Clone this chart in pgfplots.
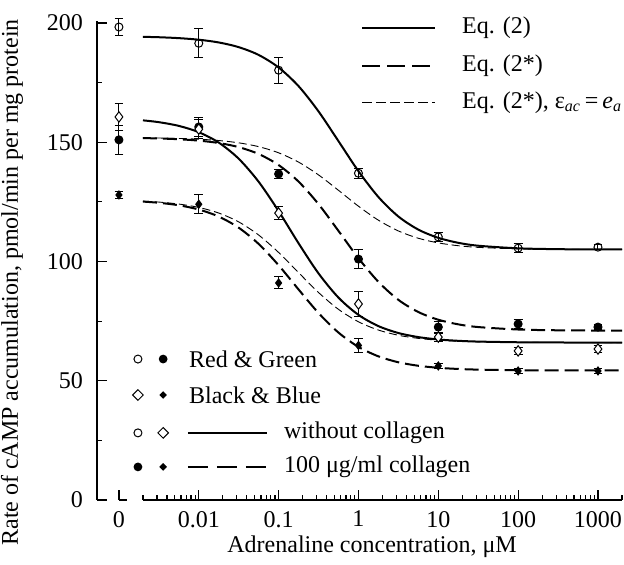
\documentclass[border=0pt]{standalone}
\usepackage{fontspec}
\setmainfont{Liberation Serif}
\usepackage{pgfplots}
\usepackage{pgfplotstable}
\pgfplotsset{compat=1.18}
\usetikzlibrary{shapes.geometric}

% fitted curves (x in uM)
\pgfplotstableread{
x       rgA     rgB     rgC     bbA     bbB     bbC
0.002   194.19  151.73  151.85  159.17  125.11  125.30
0.00316 194.02  151.58  151.77  158.41  124.61  124.91
0.00562 193.64  151.25  151.58  156.85  123.57  124.08
0.01    192.98  150.67  151.27  154.20  121.78  122.67
0.0178  191.83  149.67  150.71  149.84  118.82  120.31
0.0316  189.87  147.95  149.75  143.10  114.17  116.60
0.0562  186.60  145.06  148.15  133.43  107.36  111.09
0.1     181.34  140.43  145.56  121.12  98.42   103.78
0.178   173.49  133.47  141.65  107.60  88.24   95.31
0.316   162.93  124.05  136.30  95.01   78.40   86.99
0.562   150.45  112.82  129.84  84.85   70.19   79.93
1       137.86  101.38  123.17  77.61   64.19   74.72
1.78    127.01  91.44   117.30  72.90   60.22   71.24
3.16    118.87  83.92   112.81  70.01   57.75   69.06
5.62    113.37  78.81   109.74  68.30   56.28   67.76
10      109.91  75.58   107.79  67.30   55.43   67.00
17.8    107.83  73.64   106.61  66.74   54.94   66.57
31.6    106.61  72.51   105.92  66.42   54.66   66.32
100     105.52  71.48   105.29  66.13   54.41   66.10
316     105.16  71.15   105.09  66.04   54.34   66.03
1000    105.05  71.05   105.03  66.01   54.31   66.01
2000    105.03  71.02   105.01  66.01   54.30   66.01
}\curves

\begin{document}
\begin{tikzpicture}[font=\fontsize{12}{14}\selectfont]
\useasboundingbox (-48.5pt,-32.5pt) rectangle (263.5pt,250pt);
\begin{axis}[
    scale only axis,
    width=262.5pt, height=239.7pt,
    xmode=log, xmin=0.000531, xmax=2000,
    ymin=0, ymax=201,
    axis lines=left,
    axis line style={-, line width=0.7pt},
    x axis line style={draw=none},
    clip=false,
    tick align=inside,
    tick style={black, line width=0.6pt},
    major tick length=5pt, minor tick length=2.5pt,
    xtick={0.001,0.01,0.1,1,10,100,1000},
    xticklabels={0,0.01,0.1,1,10,100,1000},
    minor xtick={0.002,0.003,0.004,0.005,0.006,0.007,0.008,0.009,
      0.02,0.03,0.04,0.05,0.06,0.07,0.08,0.09,
      0.2,0.3,0.4,0.5,0.6,0.7,0.8,0.9,
      2,3,4,5,6,7,8,9,20,30,40,50,60,70,80,90,
      200,300,400,500,600,700,800,900,2000},
    ytick={0,50,100,150,200},
    minor ytick={25,75,125,175},
    /pgf/number format/assume math mode=true,
    xticklabel style={yshift=-2pt},
    yticklabel style={xshift=-3.5pt},
    xlabel={Adrenaline concentration, μM},
    ylabel={Rate of cAMP accumulation, pmol/min per mg protein},
    xlabel style={at={(axis description cs:0.524,-0.098)}, anchor=center},
    ylabel style={at={(axis description cs:-0.162,0.454)}, anchor=center},
    every axis plot/.append style={black},
    errs/.style={only marks, line width=0.5pt,
      error bars/y dir=both, error bars/y explicit,
      error bars/error mark=|,
      error bars/error mark options={black, mark size=2.2pt, line width=0.5pt},
      error bars/error bar style={line width=0.5pt}},
]
% x axis drawn in two pieces: the zero point and the log scale
\draw[line width=0.7pt] (axis cs:0.001,0) -- (axis cs:0.00125,0);
\draw[line width=0.7pt] (axis cs:0.002,0) -- (axis cs:2000,0);

\addplot[smooth, line width=1pt] table[x=x, y=rgA] {\curves};
\addplot[smooth, line width=1pt, dash pattern=on 7pt off 3pt] table[x=x, y=rgB] {\curves};
\addplot[smooth, line width=0.45pt, dash pattern=on 4pt off 2pt] table[x=x, y=rgC] {\curves};
\addplot[smooth, line width=1pt] table[x=x, y=bbA] {\curves};
\addplot[smooth, line width=1pt, dash pattern=on 7pt off 3pt] table[x=x, y=bbB] {\curves};
\addplot[smooth, line width=0.45pt, dash pattern=on 4pt off 2pt] table[x=x, y=bbC] {\curves};

% Red & Green, without collagen (open circles)
\addplot[errs, mark=o, mark size=2pt, mark options={fill=white}] coordinates {
  (0.001,198.3) +- (0,3.4) (0.01,191.5) +- (0,6) (0.1,180.2) +- (0,5.4)
  (1,137) +- (0,2) (10,110.3) +- (0,2) (100,105.6) +- (0,2) (1000,106) +- (0,1)
};
% Red & Green, collagen (filled circles)
\addplot[errs, mark=*, mark size=2pt] coordinates {
  (0.001,151) +- (0,6) (0.01,156.4) +- (0,4) (0.1,136.7) +- (0,2)
  (1,101) +- (0,4) (10,72.5) +- (0,2.5) (100,73.8) +- (0,2) (1000,72.5) +- (0,1)
};
% Black & Blue, without collagen (open diamonds)
\addplot[errs, mark=diamond*, mark size=2.6pt, mark options={fill=white}] coordinates {
  (0.001,160.6) +- (0,5.7) (0.01,155.5) +- (0,4) (0.1,120.3) +- (0,2.8)
  (1,82.2) +- (0,5.2) (10,68.3) +- (0,2) (100,62.5) +- (0,1.5) (1000,63.3) +- (0,1.5)
};
% Black & Blue, collagen (filled diamonds)
\addplot[errs, mark=diamond*, mark size=2pt] coordinates {
  (0.001,127.9) +- (0,1.5) (0.01,124) +- (0,4) (0.1,91) +- (0,2.5)
  (1,64.8) +- (0,2.8) (10,56.2) +- (0,1) (100,54.1) +- (0,1) (1000,54.1) +- (0,1)
};

% legend, upper right
\draw[line width=1pt] (axis description cs:0.505,0.985) -- (axis description cs:0.644,0.985);
\node[anchor=west] at (axis description cs:0.682,0.985) {Eq. (2)};
\draw[line width=1pt, dash pattern=on 9pt off 3.5pt] (axis description cs:0.505,0.906) -- (axis description cs:0.644,0.906);
\node[anchor=west] at (axis description cs:0.682,0.906) {Eq. (2*)};
\draw[line width=0.45pt, dash pattern=on 5pt off 2pt] (axis description cs:0.505,0.829) -- (axis description cs:0.644,0.829);
\node[anchor=west] at (axis description cs:0.682,0.829)
  {Eq. (2*), ε\textsubscript{\textit{ac}}\,=\,\textit{e}\textsubscript{\textit{a}}};

% legend, lower left
\draw[line width=0.5pt, fill=white] (axis description cs:0.078,0.294) circle[radius=2pt];
\fill (axis description cs:0.126,0.294) circle[radius=2.2pt];
\node[anchor=west] at (axis description cs:0.162,0.294) {Red \& Green};
\node[draw, diamond, line width=0.5pt, inner sep=0pt, minimum size=5.5pt] at (axis description cs:0.078,0.219) {};
\node[fill, diamond, inner sep=0pt, minimum size=4pt] at (axis description cs:0.126,0.219) {};
\node[anchor=west] at (axis description cs:0.162,0.219) {Black \& Blue};
\draw[line width=0.5pt] (axis description cs:0.078,0.140) circle[radius=2pt];
\node[draw, diamond, line width=0.5pt, inner sep=0pt, minimum size=5.5pt] at (axis description cs:0.126,0.140) {};
\draw[line width=1pt] (axis description cs:0.173,0.140) -- (axis description cs:0.324,0.140);
\node[anchor=west] at (axis description cs:0.343,0.140) {without collagen};
\fill (axis description cs:0.078,0.069) circle[radius=2.2pt];
\node[fill, diamond, inner sep=0pt, minimum size=4pt] at (axis description cs:0.126,0.069) {};
\draw[line width=1pt, dash pattern=on 10pt off 4.5pt] (axis description cs:0.173,0.069) -- (axis description cs:0.324,0.069);
\node[anchor=west] at (axis description cs:0.343,0.069) {100 μg/ml collagen};
\end{axis}
\end{tikzpicture}
\end{document}
